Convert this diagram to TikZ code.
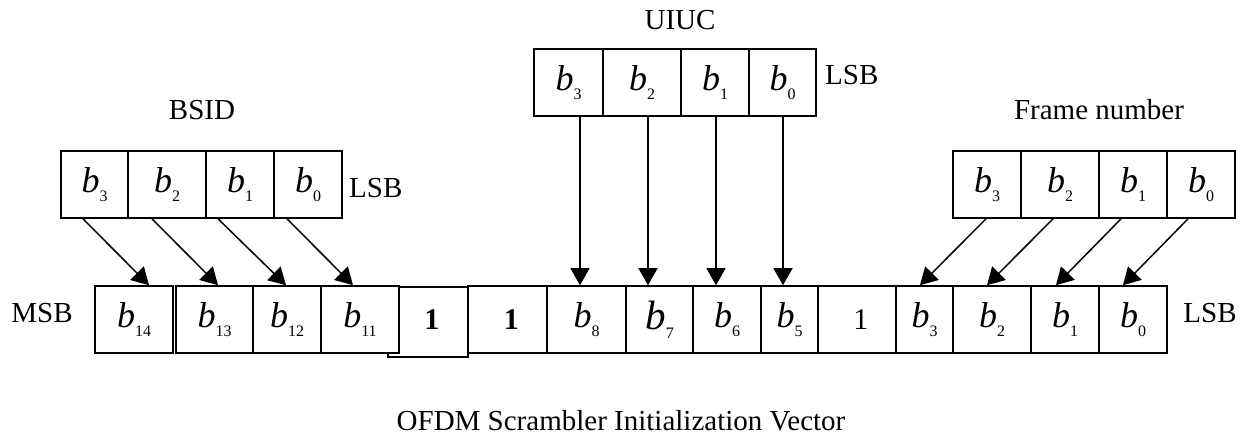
\documentclass[tikz,border=0pt]{standalone}
\usepackage{fontspec}
\setmainfont{Liberation Serif}
\usepackage{tikz}
\usetikzlibrary{positioning, arrows.meta}
\newcommand{\bitlbl}[2][36]{{\fontsize{#1}{#1}\selectfont\itshape b}\raisebox{-9pt}{\fontsize{16}{16}\selectfont #2}}
\newcommand{\onebit}[1][\bfseries]{{\fontsize{30}{30}\selectfont #1 1}}
\tikzset{
    bit_cell/.style={
        rectangle,
        draw=black,
        fill=white,
        line width=1.6pt,
        minimum height=67pt,
        inner sep=0pt
    },
    bit_edge/.style={
        -{Triangle[length=17pt, width=19pt]},
        line width=1.5pt,
        draw=black
    },
    field_text/.style={
        font=\fontsize{29}{29}\selectfont,
        inner sep=0pt
    }
}
\begin{document}
\begin{tikzpicture}[x=1pt, y=-1pt]
    \useasboundingbox (0,0) rectangle (1244,443);

    % BSID
    \node[bit_cell, minimum width=67pt] (s3) at (94.5,184.5) {\bitlbl{3}};
    \node[bit_cell, minimum width=78pt] (s2) at (167,184.5) {\bitlbl{2}};
    \node[bit_cell, minimum width=68pt] (s1) at (240,184.5) {\bitlbl{1}};
    \node[bit_cell, minimum width=68pt] (s0) at (308,184.5) {\bitlbl{0}};
    \node[field_text, anchor=base] (bsid_name) at (202,120) {BSID};
    \node[field_text, anchor=west] (bsid_lsb) at (349,188) {LSB};

    % UIUC
    \node[bit_cell, minimum width=69pt] (u3) at (568.5,82.5) {\bitlbl{3}};
    \node[bit_cell, minimum width=78pt] (u2) at (642,82.5) {\bitlbl{2}};
    \node[bit_cell, minimum width=68pt] (u1) at (715,82.5) {\bitlbl{1}};
    \node[bit_cell, minimum width=67pt] (u0) at (782.5,82.5) {\bitlbl{0}};
    \node[field_text, anchor=base] (uiuc_name) at (680,30) {UIUC};
    \node[field_text, anchor=west] (uiuc_lsb) at (825,75) {LSB};

    % Frame number
    \node[bit_cell, minimum width=68pt] (f3) at (987,184.5) {\bitlbl{3}};
    \node[bit_cell, minimum width=78pt] (f2) at (1060,184.5) {\bitlbl{2}};
    \node[bit_cell, minimum width=68pt] (f1) at (1133,184.5) {\bitlbl{1}};
    \node[bit_cell, minimum width=68pt] (f0) at (1201,184.5) {\bitlbl{0}};
    \node[field_text, anchor=base] (frame_name) at (1099,120) {Frame number};

    % scrambler vector
    \node[bit_cell, minimum width=78pt] (v14) at (134,319.5) {\bitlbl{14}};
    \node[bit_cell, minimum width=77pt] (v13) at (214.5,319.5) {\bitlbl{13}};
    \node[bit_cell, minimum width=68pt] (v12) at (287,319.5) {\bitlbl{12}};
    \node[bit_cell, minimum width=80pt, minimum height=70pt] (one_a) at (428,322) {\raisebox{5pt}{\onebit}};
    \node[bit_cell, minimum width=78pt] (v11) at (360,319.5) {\bitlbl{11}};
    \node[bit_cell, minimum width=79pt] (one_b) at (507.5,319.5) {\onebit};
    \node[bit_cell, minimum width=79pt] (v8) at (586.5,319.5) {\bitlbl{8}};
    \node[bit_cell, minimum width=67pt] (v7) at (659.5,319.5) {\raisebox{-4pt}{\bitlbl[41]{7}}};
    \node[bit_cell, minimum width=68pt] (v6) at (727,319.5) {\bitlbl{6}};
    \node[bit_cell, minimum width=57pt] (v5) at (789.5,319.5) {\bitlbl{5}};
    \node[bit_cell, minimum width=78pt] (one_c) at (857,319.5) {\onebit[\mdseries]};
    \node[bit_cell, minimum width=57pt] (v3) at (924.5,319.5) {\bitlbl{3}};
    \node[bit_cell, minimum width=78pt] (v2) at (992,319.5) {\bitlbl{2}};
    \node[bit_cell, minimum width=68pt] (v1) at (1065,319.5) {\bitlbl{1}};
    \node[bit_cell, minimum width=68pt] (v0) at (1133,319.5) {\bitlbl{0}};
    \node[field_text] (vec_msb) at (42,313) {MSB};
    \node[field_text] (vec_lsb) at (1210,313) {LSB};
    \node[field_text, anchor=base] (vec_name) at (621,430) {OFDM Scrambler Initialization Vector};

    \draw[bit_edge] ([xshift=-11.5pt]s3.south) -- ([xshift=15pt]v14.north);
    \draw[bit_edge] ([xshift=-15pt]s2.south) -- ([xshift=3.5pt]v13.north);
    \draw[bit_edge] ([xshift=-22pt]s1.south) -- ([xshift=-1pt]v12.north);
    \draw[bit_edge] ([xshift=-21pt]s0.south) -- ([xshift=-7pt]v11.north);

    \draw[bit_edge] ([xshift=11.5pt]u3.south) -- ([xshift=-6.5pt]v8.north);
    \draw[bit_edge] ([xshift=6pt]u2.south) -- ([xshift=-11.5pt]v7.north);
    \draw[bit_edge] ([xshift=1pt]u1.south) -- ([xshift=-11pt]v6.north);
    \draw[bit_edge] ([xshift=0.5pt]u0.south) -- ([xshift=-6.5pt]v5.north);

    \draw[bit_edge] ([xshift=-1pt]f3.south) -- ([xshift=-4.5pt]v3.north);
    \draw[bit_edge] ([xshift=-7pt]f2.south) -- ([xshift=-5pt]v2.north);
    \draw[bit_edge] ([xshift=-12pt]f1.south) -- ([xshift=-9pt]v1.north);
    \draw[bit_edge] ([xshift=-13pt]f0.south) -- ([xshift=-10pt]v0.north);
\end{tikzpicture}
\end{document}
